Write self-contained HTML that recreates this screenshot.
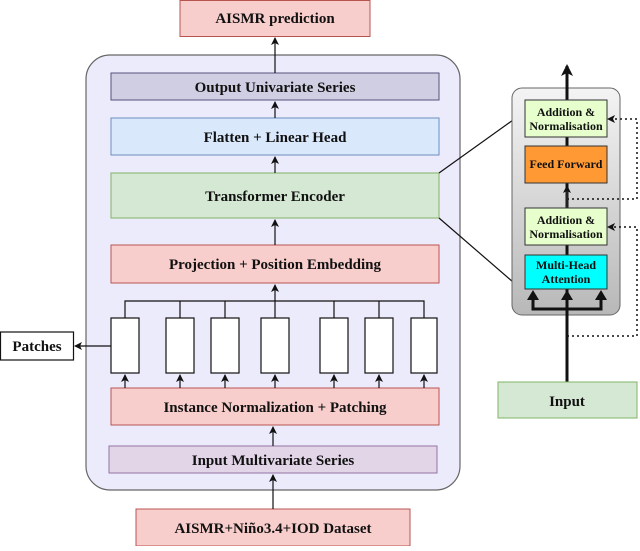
<!DOCTYPE html>
<html><head><style>
body{margin:0;background:#fff;}
svg text{font-family:"Liberation Serif",serif;font-weight:bold;text-anchor:middle;fill:#111;}
</style></head><body>
<svg width="640" height="546" viewBox="0 0 640 546" xmlns="http://www.w3.org/2000/svg">
<defs>
<marker id="a" markerWidth="8" markerHeight="8" refX="7" refY="4" orient="auto" markerUnits="userSpaceOnUse"><path d="M0,0 L8,4 L0,8 L2,4z" fill="#111"/></marker>
<marker id="b" markerWidth="12" markerHeight="12" refX="10" refY="6" orient="auto" markerUnits="userSpaceOnUse"><path d="M0,0 L12,6 L0,12 L3,6z" fill="#111"/></marker>
<linearGradient id="g" x1="0" y1="0" x2="0" y2="1"><stop offset="0" stop-color="#f4f4f4"/><stop offset="1" stop-color="#b8b8b8"/></linearGradient>
</defs>
<rect x="86" y="55" width="374" height="435" rx="24" fill="#ecebfb" stroke="#666" stroke-width="1.2"/>
<rect x="180" y="0.5" width="190" height="36" fill="#f8cecc" stroke="#b85450"/>
<text x="275" y="23" font-size="15">AISMR prediction</text>
<rect x="111" y="73" width="328" height="27" fill="#d0cee2" stroke="#56517e"/>
<text x="275" y="92" font-size="15">Output Univariate Series</text>
<rect x="111" y="118" width="328" height="37" fill="#dae8fc" stroke="#6c8ebf"/>
<text x="275" y="142" font-size="15">Flatten + Linear Head</text>
<rect x="111" y="173" width="328" height="45" fill="#d5e8d4" stroke="#82b366"/>
<text x="275" y="201" font-size="15">Transformer Encoder</text>
<rect x="111" y="245" width="328" height="38" fill="#f8cecc" stroke="#b85450"/>
<text x="275" y="269" font-size="15">Projection + Position Embedding</text>
<rect x="111" y="388" width="328" height="37" fill="#f8cecc" stroke="#b85450"/>
<text x="275" y="412" font-size="15">Instance Normalization + Patching</text>
<rect x="109" y="446" width="328" height="27" fill="#e1d5e7" stroke="#9673a6"/>
<text x="273" y="465" font-size="15">Input Multivariate Series</text>
<rect x="136" y="509" width="274" height="37" fill="#f8cecc" stroke="#b85450"/>
<text x="273" y="533" font-size="15">AISMR+Niño3.4+IOD Dataset</text>
<g stroke="#111" stroke-width="1.2" fill="none">
<line x1="275" y1="73" x2="275" y2="38" marker-end="url(#a)"/>
<line x1="275" y1="118" x2="275" y2="102" marker-end="url(#a)"/>
<line x1="275" y1="173" x2="275" y2="157" marker-end="url(#a)"/>
<line x1="275" y1="245" x2="275" y2="220" marker-end="url(#a)"/>
<line x1="275" y1="318" x2="275" y2="285" marker-end="url(#a)"/>
<polyline points="125,318 125,301 424,301 424,318"/>
<line x1="180" y1="301" x2="180" y2="318"/><line x1="225" y1="301" x2="225" y2="318"/>
<line x1="334" y1="301" x2="334" y2="318"/><line x1="379" y1="301" x2="379" y2="318"/>
<line x1="273" y1="446" x2="273" y2="427" marker-end="url(#a)"/>
<line x1="273" y1="509" x2="273" y2="475" marker-end="url(#a)"/>
<line x1="111" y1="346" x2="75" y2="346" marker-end="url(#a)"/>
<line x1="439" y1="173" x2="513" y2="120"/>
<line x1="439" y1="218" x2="513" y2="282"/>
</g>
<g fill="#fff" stroke="#111" stroke-width="1.2">
<rect x="111" y="318" width="28" height="55"/><rect x="166" y="318" width="28" height="55"/>
<rect x="211" y="318" width="28" height="55"/><rect x="261" y="318" width="28" height="55"/>
<rect x="320" y="318" width="28" height="55"/><rect x="365" y="318" width="28" height="55"/>
<rect x="411" y="318" width="26" height="55"/>
<rect x="0.5" y="332" width="73" height="28"/>
</g>
<g stroke="#111" stroke-width="1.2">
<line x1="125" y1="388" x2="125" y2="375" marker-end="url(#a)"/>
<line x1="180" y1="388" x2="180" y2="375" marker-end="url(#a)"/>
<line x1="225" y1="388" x2="225" y2="375" marker-end="url(#a)"/>
<line x1="275" y1="388" x2="275" y2="375" marker-end="url(#a)"/>
<line x1="334" y1="388" x2="334" y2="375" marker-end="url(#a)"/>
<line x1="379" y1="388" x2="379" y2="375" marker-end="url(#a)"/>
<line x1="424" y1="388" x2="424" y2="375" marker-end="url(#a)"/>
</g>
<text x="37" y="351" font-size="15">Patches</text>
<rect x="512" y="88" width="108" height="227" rx="10" fill="url(#g)" stroke="#666"/>
<g stroke="#111" stroke-dasharray="2,3" stroke-width="1.5" fill="none">
<polyline points="567,336 637,336 637,227 608,227" marker-end="url(#a)"/>
<polyline points="567,199 637,199 637,119 608,119" marker-end="url(#a)"/>
</g>
<line x1="567" y1="382" x2="567" y2="66" stroke="#111" stroke-width="3" marker-end="url(#b)"/>
<polyline points="533,298 533,309 601,309 601,298" fill="none" stroke="#111" stroke-width="3"/>
<path d="M527,300 L533,290 L539,300z M595,300 L601,290 L607,300z M561,300 L567,290 L573,300z" fill="#111"/>
<rect x="525" y="100" width="82" height="37" fill="#e6ffcc" stroke="#333"/>
<text x="566" y="116" font-size="12">Addition &amp;</text><text x="566" y="130" font-size="12">Normalisation</text>
<rect x="525" y="146" width="82" height="37" fill="#ff9933" stroke="#333"/>
<text x="566" y="168" font-size="12">Feed Forward</text>
<line x1="567" y1="208" x2="567" y2="186" stroke="#333" marker-end="url(#a)"/>
<rect x="525" y="208" width="82" height="37" fill="#e6ffcc" stroke="#333"/>
<text x="566" y="224" font-size="12">Addition &amp;</text><text x="566" y="238" font-size="12">Normalisation</text>
<rect x="525" y="255" width="82" height="34" fill="#00ffff" stroke="#333"/>
<text x="566" y="269" font-size="12">Multi-Head</text><text x="566" y="283" font-size="12">Attention</text>
<rect x="498" y="382" width="139" height="36" fill="#d5e8d4" stroke="#82b366"/>
<text x="567" y="406" font-size="15">Input</text>
</svg>
</body></html>
